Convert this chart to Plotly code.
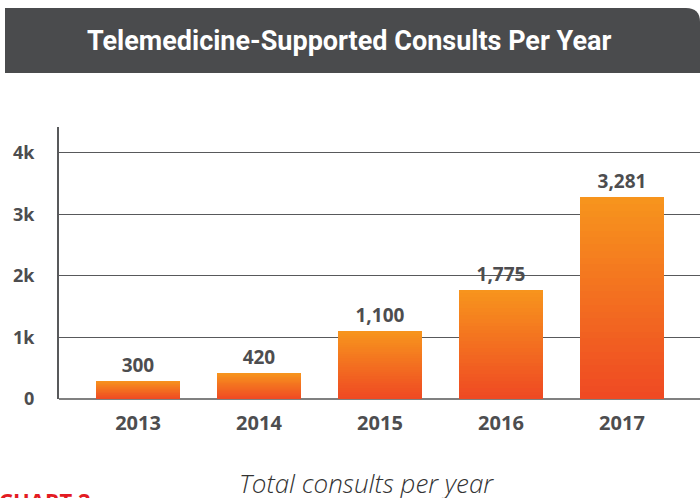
import plotly.graph_objects as go

# ---- data ----
years = ["2013", "2014", "2015", "2016", "2017"]
consults = [300, 420, 1100, 1775, 3281]
labels = ["300", "420", "1,100", "1,775", "3,281"]
y_tickvals = [0, 1000, 2000, 3000, 4000]
y_ticktext = ["0", "1k", "2k", "3k", "4k"]

title_text = "Telemedicine-Supported Consults Per Year"
subtitle_text = "Total consults per year"
chart_tag = "CHART 2"

# ---- layout geometry (pixels) ----
W, H = 700, 498
L, R, T, B = 59, 0, 127, 99
pw, ph = W - L - R, H - T - B


def px_x(x):
    return (x - L) / pw


def px_y(y):
    return (H - B - y) / ph


TEXT = "#4d4d4f"
top_col = (247, 148, 29)
bot_col = (239, 74, 35)
N = 30

fig = go.Figure()
for k in range(N):
    t = k / (N - 1)
    c = tuple(round(top_col[i] + (bot_col[i] - top_col[i]) * t) for i in range(3))
    frac = 1 - k / N
    fig.add_trace(go.Bar(
        x=years,
        y=[v * frac for v in consults],
        marker=dict(color="rgb(%d,%d,%d)" % c, line=dict(width=0)),
        width=0.694,
        text=labels if k == 0 else None,
        textposition="outside" if k == 0 else "none",
        textfont=dict(family="Open Sans", size=19, color=TEXT, weight="bold"),
        cliponaxis=False,
        hoverinfo="skip",
        showlegend=False,
    ))

# title bar with rounded top-right corner
x0, x1 = px_x(5), px_x(700)
y0, y1 = px_y(73), px_y(8)
rx = 14 / pw
ry = 14 / ph
path = (f"M {x0},{y0} L {x0},{y1} L {x1 - rx},{y1} "
        f"Q {x1},{y1} {x1},{y1 - ry} L {x1},{y0} Z")
fig.add_shape(type="path", path=path, xref="paper", yref="paper",
              fillcolor="#4a4b4d", line=dict(width=0), layer="above")

fig.add_annotation(
    text=title_text, xref="paper", yref="paper",
    x=px_x(349), y=px_y(41), xanchor="center", yanchor="middle",
    showarrow=False,
    font=dict(family="Roboto", size=27, color="white", weight="bold"),
)
fig.add_annotation(
    text=subtitle_text, xref="paper", yref="paper",
    x=px_x(366), y=px_y(483), xanchor="center", yanchor="middle",
    showarrow=False,
    font=dict(family="Open Sans", size=26, color="#333333", style="italic", weight=300),
)
fig.add_annotation(
    text=chart_tag, xref="paper", yref="paper",
    x=px_x(-3), y=px_y(483), xanchor="left", yanchor="top",
    showarrow=False,
    font=dict(family="Open Sans", size=22, color="#e31b23", weight="bold"),
)

fig.update_layout(
    width=W, height=H,
    margin=dict(l=L, r=R, t=T, b=B, pad=0),
    barmode="overlay",
    bargap=0,
    plot_bgcolor="white",
    paper_bgcolor="white",
    xaxis=dict(
        range=[-0.653, 4.645],
        showgrid=False,
        showline=False,
        zeroline=False,
        ticks="",
        tickfont=dict(family="Open Sans", size=20, color=TEXT, weight="bold"),
        ticklabelstandoff=10,
        fixedrange=True,
    ),
    yaxis=dict(
        range=[0, 4420],
        tickvals=y_tickvals,
        ticktext=y_ticktext,
        showgrid=True,
        gridcolor="#58595b",
        gridwidth=1,
        showline=True,
        linecolor="#58595b",
        linewidth=2,
        zeroline=True,
        zerolinecolor="#808080",
        zerolinewidth=2.5,
        ticks="",
        tickfont=dict(family="Open Sans", size=18, color=TEXT, weight="bold"),
        ticklabelstandoff=19,
        fixedrange=True,
    ),
)

fig.write_html(
    "out.html",
    config={"displayModeBar": False, "staticPlot": True},
    post_script="document.body.style.margin='0px';document.body.style.overflow='hidden';",
)
